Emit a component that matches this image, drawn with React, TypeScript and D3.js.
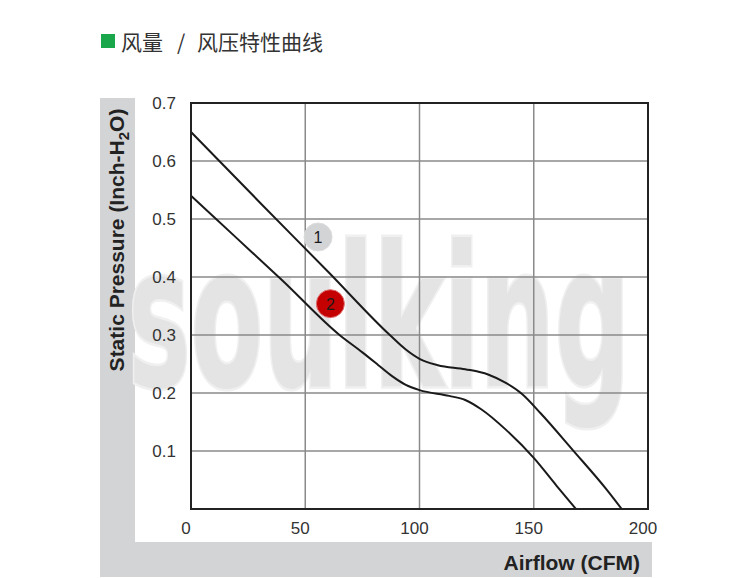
import React from "react";
import * as d3 from "d3";

const xTicks = [0, 50, 100, 150, 200];
const yTicks = [0.1, 0.2, 0.3, 0.4, 0.5, 0.6, 0.7];

const curve1Flow = [0, 30, 60, 87, 94, 100, 108, 120, 130, 138, 145, 153, 167, 182, 188.5];
const curve1Pressure = [0.65, 0.529, 0.409, 0.3, 0.275, 0.259, 0.248, 0.241, 0.232, 0.217, 0.198, 0.165, 0.102, 0.033, 0];

const curve2Flow = [0, 20, 40, 65, 75, 82, 88, 94, 100, 113, 120, 127, 138, 150, 160, 168.5];
const curve2Pressure = [0.54, 0.467, 0.394, 0.3, 0.27, 0.248, 0.229, 0.214, 0.205, 0.195, 0.188, 0.172, 0.136, 0.088, 0.04, 0];

const curveLabels = ["1", "2"];
const labelFlow = [55.6, 61];
const labelPressure = [0.469, 0.354];

const title1 = "风量";
const titleSep = "/";
const title2 = "风压特性曲线";
const xTitle = "Airflow (CFM)";
const watermark = "soulking";

export default function App() {
  const x = d3.scaleLinear().domain([0, 200]).range([191, 648]);
  const y = d3.scaleLinear().domain([0, 0.7]).range([509, 103]);
  const line = d3
    .line<[number, number]>()
    .x((d) => x(d[0]))
    .y((d) => y(d[1]))
    .curve(d3.curveMonotoneX);

  const c1 = curve1Flow.map((v, i) => [v, curve1Pressure[i]] as [number, number]);
  const c2 = curve2Flow.map((v, i) => [v, curve2Pressure[i]] as [number, number]);

  const font = "'Liberation Sans', Arial, sans-serif";
  const frame = "#d3d4d6";

  return (
    <svg
      width={750}
      height={578}
      style={{ position: "absolute", left: 0, top: 0, background: "#fff" }}
    >
      {/* title */}
      <rect x={101} y={34} width={14} height={14} fill="#1aa64a" />
      <g fontFamily="'Noto Sans CJK SC', sans-serif" fontSize={21} fill="#333">
        <text x={121} y={50}>{title1}</text>
        <text x={181} y={50} textAnchor="middle">{titleSep}</text>
        <text x={197} y={50}>{title2}</text>
      </g>

      {/* gray L frame */}
      <rect x={100} y={98} width={35} height={479} fill={frame} />
      <rect x={100} y={542} width={552} height={35} fill={frame} />

      {/* watermark */}
      <text
        x={128}
        y={386}
        fontFamily="'DejaVu Sans Condensed', 'DejaVu Sans', sans-serif"
        fontWeight="bold"
        fontSize={196}
        textLength={502}
        lengthAdjust="spacingAndGlyphs"
        fill="#e4e4e4"
        stroke="#f0f0f0"
        strokeWidth={5}
        paintOrder="stroke"
      >
        {watermark}
      </text>

      {/* grid */}
      <g stroke="#8a8a8a" strokeWidth={1.5}>
        {xTicks.slice(1, -1).map((t) => (
          <line key={"gx" + t} x1={x(t)} x2={x(t)} y1={y(0.7)} y2={y(0)} />
        ))}
        {yTicks.slice(0, -1).map((t) => (
          <line key={"gy" + t} x1={x(0)} x2={x(200)} y1={y(t)} y2={y(t)} />
        ))}
      </g>

      {/* curves */}
      <path d={line(c1) || ""} fill="none" stroke="#1a1a1a" strokeWidth={2} />
      <path d={line(c2) || ""} fill="none" stroke="#1a1a1a" strokeWidth={2} />

      {/* plot border */}
      <rect
        x={x(0)}
        y={y(0.7)}
        width={x(200) - x(0)}
        height={y(0) - y(0.7)}
        fill="none"
        stroke="#222"
        strokeWidth={2}
      />

      {/* curve labels */}
      {curveLabels.map((l, i) => (
        <g key={l}>
          <circle
            cx={x(labelFlow[i])}
            cy={y(labelPressure[i])}
            r={14}
            fill={i === 0 ? "#d3d4d6" : "#c40000"}
            stroke={i === 0 ? "#dcdcdc" : "#e07070"}
            strokeWidth={1}
          />
          <text
            x={x(labelFlow[i])}
            y={y(labelPressure[i]) + 6}
            textAnchor="middle"
            fontFamily={font}
            fontSize={16}
            fill="#1a1a1a"
          >
            {l}
          </text>
        </g>
      ))}

      {/* y tick labels */}
      <g fontFamily={font} fontSize={17} fill="#333" textAnchor="end">
        {yTicks.map((t) => (
          <text key={"yl" + t} x={176} y={y(t) + 6}>
            {t.toFixed(1)}
          </text>
        ))}
      </g>

      {/* x tick labels */}
      <g fontFamily={font} fontSize={17} fill="#333" textAnchor="middle">
        {xTicks.map((t) => (
          <text key={"xl" + t} x={x(t) - 5} y={534}>
            {t}
          </text>
        ))}
      </g>

      {/* axis titles */}
      <text
        x={640}
        y={570}
        textAnchor="end"
        fontFamily={font}
        fontWeight="bold"
        fontSize={21}
        fill="#222"
      >
        {xTitle}
      </text>
      <text
        transform="translate(124,240) rotate(-90)"
        textAnchor="middle"
        fontFamily={font}
        fontWeight="bold"
        fontSize={21}
        fill="#222"
      >
        Static Pressure (Inch-H
        <tspan fontSize={15} dy={5}>2</tspan>
        <tspan dy={-5}>O)</tspan>
      </text>
    </svg>
  );
}
